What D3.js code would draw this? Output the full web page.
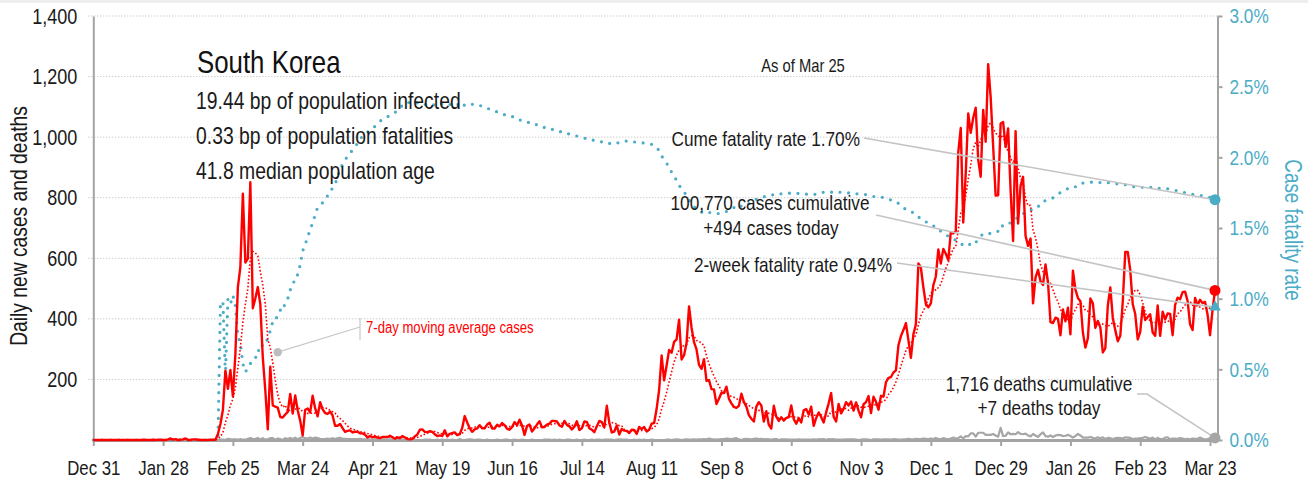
<!DOCTYPE html>
<html>
<head>
<meta charset="utf-8">
<script src="https://cdn.jsdelivr.net/npm/d3@7"></script>
<style>
  html, body { margin: 0; padding: 0; background: #fff; }
  svg { display: block; }
  text { font-family: 'Liberation Sans', Arial, sans-serif; }
</style>
</head>
<body>
<svg id="chart" width="1308" height="480"></svg>
<script>
// Daily new cases, South Korea, one array per month (Dec 31 2019 .. Mar 25 2021)
const casesDec19 = [0];
const casesJan20 = [0,0,0,0,0,0,0,0,0,0, 0,0,0,0,0,0,0,0,0,1, 0,0,0,1,0,1,1,0,0,2, 5];
const casesFeb20 = [1,3,0,1,2,5,0,0,2,2, 1,0,0,0,0,1,1,1,20,53, 100,229,169,231,144,284,505,571,813];
const casesMar20 = [586,599,851,435,467,505,448,272,165,35, 242,114,110,107,76,74,84,93,152,87, 147,98,64,15,100,104,91,146,105,78,125];
const casesApr20 = [101,89,86,94,81,47,47,53,39,27, 30,32,25,27,27,22,22,18,8,13, 9,11,8,6,10,10,10,14,9,4];
const casesMay20 = [9,6,13,8,3,2,4,12,18,34, 35,27,26,29,27,19,13,15,13,32, 12,20,23,25,16,19,40,79,58,39,27];
const casesJun20 = [35,38,49,39,39,51,57,38,38,50, 45,56,49,37,34,43,59,49,67,48, 17,46,51,28,39,51,62,42,43,51];
const casesJul20 = [54,63,63,61,48,44,63,50,45,35, 44,62,33,39,61,60,39,34,26,45, 63,59,41,113,58,25,28,48,18,36,31];
const casesAug20 = [30,23,34,33,20,43,36,43,28,34, 54,56,103,166,279,197,246,297,288,324, 332,397,266,280,320,441,371,323,299,248,235];
const casesSep20 = [267,195,198,168,167,119,136,156,155,176, 136,121,109,106,113,153,126,110,82,70, 61,110,125,114,61,95,50,38,113,77];
const casesOct20 = [63,75,64,73,75,114,69,54,72,58, 98,102,84,110,47,73,91,76,58,91, 121,155,77,61,119,88,103,125,114,127,97];
const casesNov20 = [124,97,75,118,125,145,89,143,126,100, 146,143,191,205,208,223,230,313,343,363, 386,330,271,349,382,583,569,504,450,438];
const casesDec20 = [451,511,540,629,583,631,615,594,686,682, 689,950,1030,718,880,1078,1014,1064,1097,926, 869,1090,985,1241,1132,970,807,808,1045,1050, 967];
const casesJan21 = [1029,824,657,1020,715,840,869,674,641,665, 451,537,562,524,512,580,520,389,386,404, 400,346,431,392,437,349,559,497,469,458, 355];
const casesFeb21 = [305,336,467,451,370,393,372,289,303,444, 504,403,362,326,344,457,621,621,561,448, 416,332,357,440,396,406,415,355];
const casesMar21 = [344,444,344,424,398,418,416,346,446,470, 465,488,490,459,382,363,469,445,463,452, 456,415,346,428,494];

// Daily deaths, same calendar
const deathsDec19 = [0];
const deathsJan20 = [0,0,0,0,0,0,0,0,0,0, 0,0,0,0,0,0,0,0,0,0, 0,0,0,0,0,0,0,0,0,0, 0];
const deathsFeb20 = [0,0,0,0,0,0,0,0,0,0, 0,0,0,0,0,0,0,0,0,1, 1,0,4,2,2,2,1,3,1];
const deathsMar20 = [1,4,6,4,3,7,2,6,1,3, 6,6,1,5,3,0,6,3,7,3, 8,2,7,9,6,5,8,5,8,6,4];
const deathsApr20 = [3,3,5,3,6,3,6,7,4,4, 3,3,3,3,3,4,2,2,2,2, 1,2,2,2,2,1,1,2,1,1];
const deathsMay20 = [2,2,2,0,2,1,0,0,0,0, 0,1,1,1,0,0,1,0,1,0, 1,0,1,0,0,3,0,0,1,2,1];
const deathsJun20 = [0,1,1,0,0,1,0,0,0,1, 0,0,1,1,0,0,1,0,0,1, 0,0,0,1,0,0,0,0,1,1];
const deathsJul20 = [1,0,1,0,1,0,0,1,1,0, 0,1,0,0,1,0,0,1,0,1, 1,0,1,1,1,1,0,1,2,1,1];
const deathsAug20 = [1,0,0,1,0,1,0,1,0,0, 1,0,0,0,0,0,1,1,0,1, 2,1,0,1,2,1,1,2,1,2,2];
const deathsSep20 = [3,2,5,3,2,1,2,3,3,5, 4,3,5,6,2,0,3,4,3,2, 4,5,3,4,2,3,2,1,3,3];
const deathsOct20 = [0,2,2,2,1,1,1,1,2,1, 1,1,1,1,2,1,3,2,3,1, 3,2,3,1,1,1,1,2,2,2,2];
const deathsNov20 = [1,0,1,2,2,1,0,2,2,2, 1,2,2,2,1,3,2,1,1,2, 2,4,2,2,4,3,3,5,4,3];
const deathsDec20 = [5,3,7,3,3,6,4,3,5,8, 5,6,12,5,13,12,22,22,11,24, 24,24,17,17,17,20,15,11,40,13,14];
const deathsJan21 = [25,19,20,19,26,20,19,21,15,12, 20,15,10,19,25,13,11,15,10,15, 17,16,13,14,17,13,8,13,20,15,8];
const deathsFeb21 = [8,8,10,7,5,9,5,9,3,7, 6,3,6,7,6,5,9,8,7,3, 5,5,6,7,10,7,4,8];
const deathsMar21 = [2,7,3,3,8,9,2,5,5,4, 6,5,2,4,2,5,4,4,8,4, 2,3,6,3,7];

// Axis ticks
const leftTicks = [200, 400, 600, 800, 1000, 1200, 1400];
const rightTicks = [0, 0.005, 0.01, 0.015, 0.02, 0.025, 0.03];
const dateTickLabels = ["Dec 31","Jan 28","Feb 25","Mar 24","Apr 21","May 19","Jun 16","Jul 14","Aug 11","Sep 8","Oct 6","Nov 3","Dec 1","Dec 29","Jan 26","Feb 23","Mar 23"];

// Headline figures for the latest day
const latestCases = 494;
const latestDeaths = 7;
const cumeCfr = 0.0170;
const twoWeekCfr = 0.0094;
const headerLines = ["19.44 bp of population infected", "0.33 bp of population fatalities", "41.8 median population age"];

const dailyCases = [].concat(casesDec19, casesJan20, casesFeb20, casesMar20, casesApr20, casesMay20, casesJun20,
  casesJul20, casesAug20, casesSep20, casesOct20, casesNov20, casesDec20, casesJan21, casesFeb21, casesMar21);
const dailyDeaths = [].concat(deathsDec19, deathsJan20, deathsFeb20, deathsMar20, deathsApr20, deathsMay20, deathsJun20,
  deathsJul20, deathsAug20, deathsSep20, deathsOct20, deathsNov20, deathsDec20, deathsJan21, deathsFeb21, deathsMar21);

const DAY = 864e5;
const t0 = Date.UTC(2019, 11, 31);
let cumC = 0, cumD = 0;
const rows = dailyCases.map((c, i) => {
  cumC += c; cumD += dailyDeaths[i];
  const win = dailyCases.slice(Math.max(0, i - 6), i + 1);
  return {
    date: new Date(t0 + i * DAY),
    cases: c,
    deaths: dailyDeaths[i],
    ma7: d3.mean(win),
    cfr: cumC > 0 ? cumD / cumC : 0
  };
});
const last = rows[rows.length - 1];

const svg = d3.select("#chart");
const X0 = 93.3, X1 = 1217.5, Y0 = 440, Y1 = 16;

const x = d3.scaleUtc().domain([new Date(t0), new Date(Date.UTC(2021, 2, 26))]).range([X0, X1]);
const yL = d3.scaleLinear().domain([0, 1400]).range([Y0, Y1]);
const yR = d3.scaleLinear().domain([0, 0.03]).range([Y0, Y1]);

const TEXT = "#1a1a1a", TEAL = "#4bacc6", RED = "#ff0000", AXIS = "#a3a3a3";

// top band
svg.append("rect").attr("x", 0).attr("y", 0).attr("width", 1308).attr("height", 3).attr("fill", "#eeeeee");

// gridlines
svg.append("g").selectAll("line").data(leftTicks).join("line")
  .attr("x1", X0 - 5).attr("x2", X1)
  .attr("y1", d => yL(d)).attr("y2", d => yL(d))
  .attr("stroke", "#b8b8b8").attr("stroke-width", 1).attr("stroke-dasharray", "1,2");

// left axis
const gL = svg.append("g").attr("transform", `translate(${X0},0)`)
  .call(d3.axisLeft(yL).tickValues(leftTicks).tickFormat(d3.format(",")).tickSize(0).tickPadding(16).tickSizeOuter(0));
gL.select(".domain").attr("stroke", AXIS).attr("stroke-width", 2);
gL.selectAll("text").attr("font-size", 22).attr("fill", TEXT);

// bottom axis
const tickDates = dateTickLabels.map((_, i) => new Date(t0 + i * 28 * DAY));
const gB = svg.append("g").attr("transform", `translate(0,${Y0})`)
  .call(d3.axisBottom(x).tickValues(tickDates).tickFormat((d, i) => dateTickLabels[i]).tickSize(6).tickPadding(14).tickSizeOuter(0));
gB.select(".domain").attr("stroke", AXIS).attr("stroke-width", 3);
gB.selectAll(".tick line").attr("stroke", AXIS).attr("stroke-width", 2);
gB.selectAll("text").attr("font-size", 20.5).attr("fill", TEXT);

// right axis
const gR = svg.append("g").attr("transform", `translate(${X1},0)`)
  .call(d3.axisRight(yR).tickValues(rightTicks).tickFormat(d => (d * 100).toFixed(1) + "%").tickSize(5).tickPadding(7).tickSizeOuter(0));
gR.select(".domain").attr("stroke", AXIS).attr("stroke-width", 2);
gR.selectAll(".tick line").attr("stroke", AXIS).attr("stroke-width", 2);
gR.selectAll("text").attr("font-size", 21).attr("fill", TEAL);

// axis titles
svg.append("text").attr("transform", "translate(27,226) rotate(-90)").attr("text-anchor", "middle")
  .attr("font-size", 23.5).attr("fill", TEXT).text("Daily new cases and deaths");
svg.append("text").attr("transform", "translate(1285,230) rotate(90)").attr("text-anchor", "middle")
  .attr("font-size", 23).attr("fill", TEAL).text("Case fatality rate");

// series
const line = (acc, ys) => d3.line().x(d => x(d.date)).y(d => ys(acc(d)));

svg.append("path").datum(rows).attr("d", line(d => d.deaths, yL))
  .attr("fill", "none").attr("stroke", "#a6a6a6").attr("stroke-width", 2.2).attr("stroke-linejoin", "round");

svg.append("path").datum(rows).attr("d", line(d => d.cfr, yR))
  .attr("fill", "none").attr("stroke", TEAL).attr("stroke-width", 3.2)
  .attr("stroke-linecap", "round").attr("stroke-dasharray", "0,8.6");

svg.append("path").datum(rows).attr("d", line(d => d.ma7, yL))
  .attr("fill", "none").attr("stroke", RED).attr("stroke-width", 1.6).attr("stroke-dasharray", "1.6,2");

svg.append("path").datum(rows).attr("d", line(d => d.cases, yL))
  .attr("fill", "none").attr("stroke", RED).attr("stroke-width", 2.4).attr("stroke-linejoin", "round");

// header block
svg.append("text").attr("x", 197).attr("y", 73).attr("font-size", 31.5).attr("fill", "#111").text("South Korea");
headerLines.forEach((t, i) => {
  svg.append("text").attr("x", 196).attr("y", 109 + i * 35).attr("font-size", 23.6).attr("fill", TEXT).text(t);
});
svg.append("text").attr("x", 803).attr("y", 72).attr("text-anchor", "middle").attr("font-size", 18).attr("fill", TEXT).text("As of Mar 25");

// leader lines and end markers
const ex = x(last.date);
const lead = svg.append("g").attr("fill", "none").attr("stroke", "#c4c4c4").attr("stroke-width", 1.6);
lead.append("path").attr("d", `M864,138L${ex},${yR(cumeCfr)}`);
lead.append("path").attr("d", `M876,215L${ex},${yL(latestCases)}`);
lead.append("path").attr("d", `M897,263L${ex},${yR(twoWeekCfr)}`);
lead.append("path").attr("d", `M1137,394L1147,394L${ex},${yL(latestDeaths)}`);

svg.append("circle").attr("cx", ex).attr("cy", yR(cumeCfr)).attr("r", 5.5).attr("fill", TEAL);
svg.append("circle").attr("cx", ex).attr("cy", yL(latestCases)).attr("r", 5.5).attr("fill", RED);
svg.append("path").attr("transform", `translate(${ex},${yR(twoWeekCfr)})`)
  .attr("d", d3.symbol(d3.symbolTriangle, 60)).attr("fill", TEAL);
svg.append("circle").attr("cx", ex).attr("cy", yL(latestDeaths)).attr("r", 5.5).attr("fill", "#a6a6a6");

// annotation texts
const ANN = 21;
svg.append("text").attr("x", 860).attr("y", 146).attr("text-anchor", "end").attr("font-size", ANN).attr("fill", TEXT)
  .text(`Cume fatality rate ${(cumeCfr * 100).toFixed(2)}%`);
svg.append("text").attr("x", 770).attr("y", 210).attr("text-anchor", "middle").attr("font-size", ANN).attr("fill", TEXT)
  .text("100,770 cases cumulative");
svg.append("text").attr("x", 771).attr("y", 235).attr("text-anchor", "middle").attr("font-size", ANN).attr("fill", TEXT)
  .text(`+${latestCases} cases today`);
svg.append("text").attr("x", 892).attr("y", 272).attr("text-anchor", "end").attr("font-size", ANN).attr("fill", TEXT)
  .text(`2-week fatality rate ${(twoWeekCfr * 100).toFixed(2)}%`);
svg.append("text").attr("x", 1039).attr("y", 391).attr("text-anchor", "middle").attr("font-size", ANN).attr("fill", TEXT)
  .text("1,716 deaths cumulative");
svg.append("text").attr("x", 1039).attr("y", 415).attr("text-anchor", "middle").attr("font-size", ANN).attr("fill", TEXT)
  .text(`+${latestDeaths} deaths today`);

// moving-average legend callout
const maAnchor = { date: new Date(Date.UTC(2020, 2, 14)), value: 290 };
const ax = x(maAnchor.date), ay = yL(maAnchor.value);
svg.append("line").attr("x1", ax).attr("y1", ay).attr("x2", 360).attr("y2", 327).attr("stroke", "#c8c8c8").attr("stroke-width", 1.2);
svg.append("line").attr("x1", 360).attr("y1", 318).attr("x2", 360).attr("y2", 340).attr("stroke", "#c8c8c8").attr("stroke-width", 1.2);
svg.append("circle").attr("cx", ax).attr("cy", ay).attr("r", 4.2).attr("fill", "#bdbdbd");
svg.append("text").attr("x", 366).attr("y", 333).attr("font-size", 16).attr("fill", RED)
  .text("7-day moving average cases");

// narrow type: squeeze every label horizontally around its own anchor point
svg.selectAll("text").each(function () {
  const t = d3.select(this);
  const tx = +t.attr("x") || 0, ty = +t.attr("y") || 0;
  const prev = t.attr("transform") || "";
  t.attr("x", null).attr("y", null)
    .attr("transform", `${prev} translate(${tx},${ty}) scale(0.82,1)`);
});
</script>
</body>
</html>
